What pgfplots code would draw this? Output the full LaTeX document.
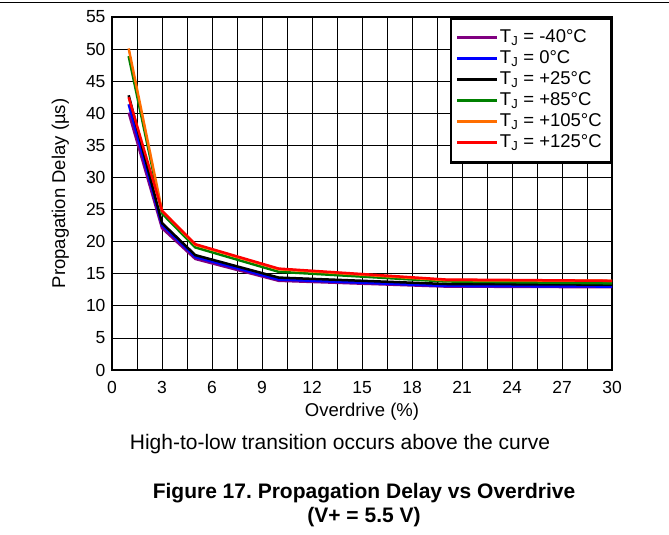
\documentclass[border=0pt]{standalone}
\usepackage{fontspec}
\setmainfont{Liberation Sans}
\usepackage{pgfplots}
\pgfplotsset{compat=1.18}
\frenchspacing

\definecolor{tjpurple}{RGB}{128,0,128}
\definecolor{tjblue}{RGB}{0,0,255}
\definecolor{tjgreen}{RGB}{0,128,0}
\definecolor{tjorange}{RGB}{255,110,0}
\definecolor{tjred}{RGB}{255,0,0}

\begin{document}
\begin{tikzpicture}
\path[use as bounding box] (0bp,0bp) rectangle (669bp,535bp);
\draw[line width=1bp] (0bp,532bp) -- (669bp,532bp);

\begin{axis}[
  at={(112bp,165bp)}, anchor=south west,
  width=500bp, height=353bp, scale only axis,
  xmin=0, xmax=30, ymin=0, ymax=55,
  xtick={0,3,...,30}, ytick={0,5,...,55},
  minor x tick num=1,
  grid=both,
  major grid style={black, line width=0.8bp},
  minor grid style={black, line width=0.8bp},
  tick style={draw=none},
  axis line style={line width=2.5bp},
  /pgf/number format/assume math mode=true,
  every tick label/.append style={font=\fontsize{17.5bp}{20bp}\selectfont},
  xticklabel style={yshift=-8bp},
  yticklabel style={xshift=-3bp},
  xlabel={Overdrive (\%)},
  ylabel={Propagation Delay (µs)},
  label style={font=\fontsize{18.5bp}{22bp}\selectfont},
  xlabel style={at={(axis description cs:0.5,0)}, anchor=base, yshift=-47bp},
  ylabel style={at={(axis description cs:0,0.5)}, anchor=base, yshift=47bp},
  legend cell align=left,
  legend image code/.code={\fill[#1, draw=none] (0bp,-1.4bp) rectangle (40bp,1.4bp);},
  legend style={at={(1,1)}, anchor=north east, draw=black, line width=2.5bp,
    fill=white, font=\fontsize{18.5bp}{22bp}\selectfont,
    inner xsep=6bp, inner ysep=9bp,
    nodes={inner xsep=3bp, inner ysep=2.5bp, text height=12.5bp, text depth=3.5bp}},
]
% T_J = -40 C
\addplot[tjpurple, line width=2.5bp] coordinates {
(1,40.1) (3,22.1) (5,17.3) (10,13.9) (20,13.0) (30,12.9)};
\addlegendentry{T\textsubscript{J} = -40°C}
% T_J = 0 C
\addplot[tjblue, line width=2.5bp] coordinates {
(1,41.4) (3,22.6) (5,17.6) (10,14.1) (20,13.1) (30,13.0)};
\addlegendentry{T\textsubscript{J} = 0°C}
% T_J = +25 C
\addplot[black, line width=2.5bp] coordinates {
(1,42.8) (3,22.9) (5,17.9) (10,14.4) (20,13.4) (30,13.3)};
\addlegendentry{T\textsubscript{J} = +25°C}
% T_J = +85 C
\addplot[tjgreen, line width=2.5bp] coordinates {
(1,48.9) (3,24.4) (5,19.1) (10,15.3) (20,13.8) (30,13.5)};
\addlegendentry{T\textsubscript{J} = +85°C}
% T_J = +105 C
\addplot[tjorange, line width=2.5bp] coordinates {
(1,50.1) (3,24.8) (5,19.5) (10,15.7) (20,14.0) (30,13.9)};
\addlegendentry{T\textsubscript{J} = +105°C}
% T_J = +125 C
\addplot[tjred, line width=2.5bp] coordinates {
(1,42.5) (3,24.8) (5,19.6) (10,15.8) (20,14.1) (30,13.9)};
\addlegendentry{T\textsubscript{J} = +125°C}
\end{axis}

\node[anchor=base, inner sep=0pt, font=\fontsize{21bp}{25bp}\selectfont]
  at (340bp,85bp) {High-to-low transition occurs above the curve};
\node[anchor=base, inner sep=0pt, font=\fontsize{21bp}{25bp}\selectfont\bfseries]
  at (364bp,37bp) {Figure 17. Propagation Delay vs Overdrive};
\node[anchor=base, inner sep=0pt, font=\fontsize{21bp}{25bp}\selectfont\bfseries]
  at (364bp,13bp) {(V+ = 5.5 V)};
\end{tikzpicture}
\end{document}
